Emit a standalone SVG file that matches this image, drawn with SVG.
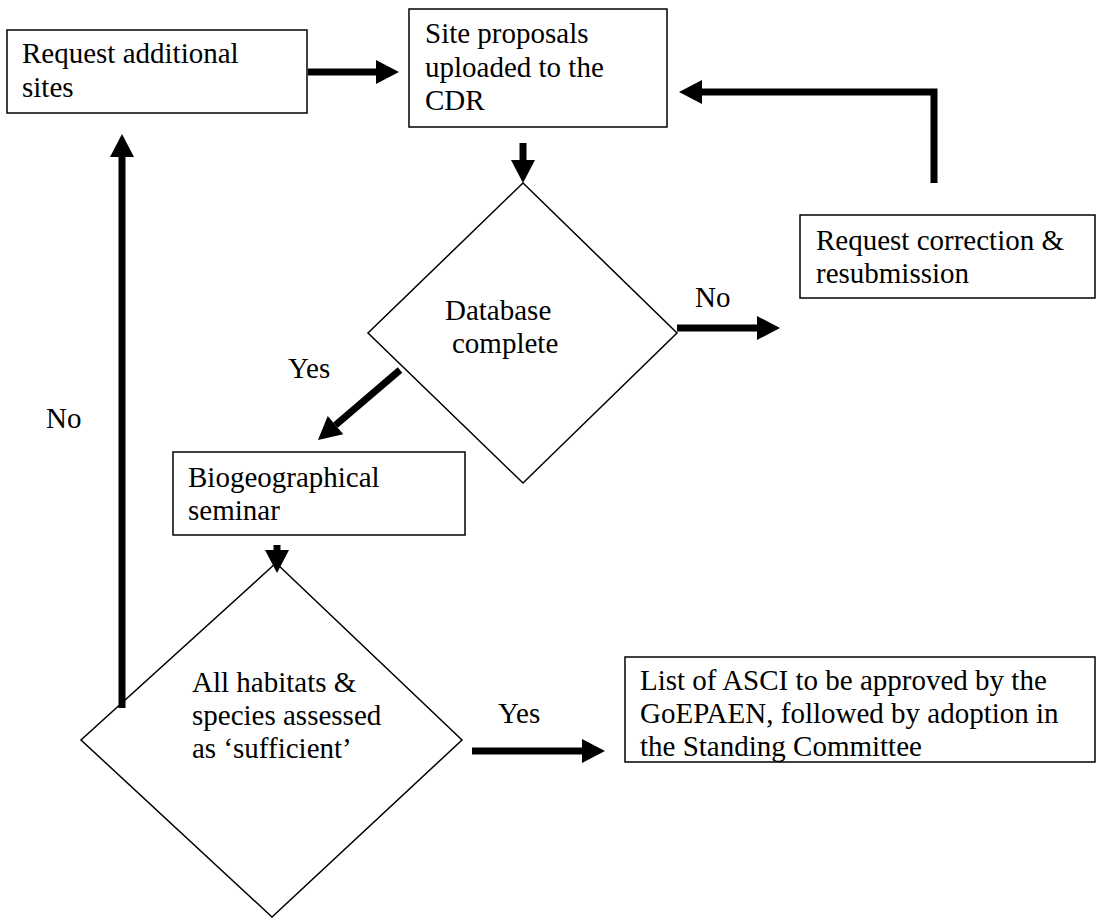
<svg xmlns="http://www.w3.org/2000/svg" width="1097" height="918" viewBox="0 0 1097 918">
<defs>
<style>
.box{fill:#fff;stroke:#000;stroke-width:1.5}
.dia{fill:#fff;stroke:#000;stroke-width:1.5}
.t{font-family:"Liberation Serif","Times New Roman",serif;font-size:29px;fill:#000}
.c{fill:none;stroke:#000;stroke-width:7}
</style>
<marker id="ah" markerUnits="userSpaceOnUse" markerWidth="24" markerHeight="24" refX="0" refY="12" orient="auto" overflow="visible">
<path d="M0,0 L23,12 L0,24 Z" fill="#000"/>
</marker>
</defs>
<rect width="1097" height="918" fill="#fff"/>
<g id="n1"><rect class="box" x="7" y="30" width="300" height="83"/>
<text class="t" x="22" y="63">Request additional</text><text class="t" x="22" y="97">sites</text></g>
<g id="n2"><rect class="box" x="409" y="9" width="258" height="118"/>
<text class="t" x="425" y="43">Site proposals</text><text class="t" x="425" y="77">uploaded to the</text><text class="t" x="425" y="110">CDR</text></g>
<g id="n3"><polygon class="dia" points="523,183 677,333 523,483 368,333"/>
<text class="t" x="445" y="320">Database</text><text class="t" x="452" y="353">complete</text></g>
<g id="n4"><rect class="box" x="800" y="215" width="295" height="83"/>
<text class="t" x="816" y="250">Request correction &amp;</text><text class="t" x="816" y="283">resubmission</text></g>
<g id="n5"><rect class="box" x="173" y="452" width="292" height="83"/>
<text class="t" x="188" y="487">Biogeographical</text><text class="t" x="188" y="520">seminar</text></g>
<g id="n6"><polygon class="dia" points="276,563 462,740 272,917 81,740"/>
<text class="t" x="192" y="692">All habitats &amp;</text><text class="t" x="192" y="725">species assessed</text><text class="t" x="192" y="758">as ‘sufficient’</text></g>
<g id="n7"><rect class="box" x="625" y="657" width="470" height="105"/>
<text class="t" x="640" y="690">List of ASCI to be approved by the</text><text class="t" x="640" y="723">GoEPAEN, followed by adoption in</text><text class="t" x="640" y="756">the Standing Committee</text></g>
<g id="connectors">
<line class="c" x1="308" y1="72" x2="376" y2="72" marker-end="url(#ah)"/>
<line class="c" x1="523" y1="143" x2="523" y2="160" marker-end="url(#ah)"/>
<polyline class="c" points="934,183 934,92 702,92" marker-end="url(#ah)"/>
<line class="c" x1="677" y1="328" x2="757" y2="328" marker-end="url(#ah)"/>
<line class="c" x1="400" y1="370" x2="335.5" y2="425.1" marker-end="url(#ah)"/>
<line class="c" x1="277" y1="545" x2="277" y2="550" marker-end="url(#ah)"/>
<line class="c" x1="122" y1="708" x2="122" y2="157" marker-end="url(#ah)"/>
<line class="c" x1="472" y1="751" x2="582" y2="751" marker-end="url(#ah)"/>
<text class="t" x="695" y="307">No</text>
<text class="t" x="288" y="378">Yes</text>
<text class="t" x="46" y="428">No</text>
<text class="t" x="498" y="723">Yes</text>
</g>
</svg>
